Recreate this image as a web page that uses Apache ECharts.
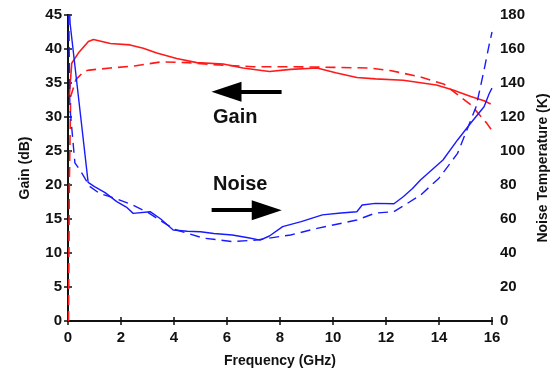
<!DOCTYPE html>
<html>
<head>
<meta charset="utf-8">
<script src="https://cdn.jsdelivr.net/npm/echarts@6/dist/echarts.min.js"></script>
<style>
  html, body { margin: 0; padding: 0; background: #fff; }
  #chart { width: 552px; height: 373px; }
</style>
</head>
<body>
<div id="chart"></div>
<script>
// x ticks (GHz)
const freqTicks = [0, 2, 4, 6, 8, 10, 12, 14, 16];

// gain, measured (solid red), dB
const gainMeasFreq = [0.05, 0.14, 0.39, 0.77, 0.96, 1.6, 2.34, 2.84, 3.35, 4.1, 4.86, 5.86, 6.6, 7.6, 8.4, 9.4, 10.1, 10.9, 11.6, 12.65, 13.9, 14.5, 15.2, 15.7, 15.95];
const gainMeas     = [33.0, 37.9, 39.4, 41.1, 41.4, 40.8, 40.6, 40.1, 39.4, 38.6, 38.0, 37.8, 37.2, 36.7, 37.0, 37.2, 36.5, 35.8, 35.6, 35.4, 34.7, 34.0, 33.0, 32.4, 31.9];

// gain, simulated (dashed red), dB
const gainSimFreq = [0.02, 0.05, 0.1, 0.3, 0.6, 0.8, 1.6, 2.5, 3.5, 4.5, 5.5, 7, 8.5, 10, 11.4, 12.2, 13.3, 14.2, 15.2, 15.8, 16];
const gainSim     = [0.0, 20.0, 33.0, 35.5, 36.7, 36.9, 37.2, 37.5, 38.1, 38.0, 37.7, 37.4, 37.4, 37.3, 37.2, 36.8, 35.9, 34.8, 31.8, 29.1, 28.0];

// noise temperature, measured (solid blue), K
const noiseMeasFreq = [0.05, 0.08, 0.76, 1.0, 1.4, 1.84, 2.2, 2.46, 3.1, 3.5, 3.97, 4.5, 5.0, 5.5, 6.2, 6.8, 7.25, 7.6, 8.1, 8.8, 9.6, 10.3, 10.9, 11.1, 11.6, 12.3, 12.65, 13.0, 13.3, 14.15, 14.7, 15.2, 15.7, 15.9, 16];
const noiseMeas     = [185, 175, 81.5, 79, 75.5, 70.2, 67, 63.3, 64.3, 60, 53.5, 52.8, 52.5, 51.5, 50.6, 49, 47.6, 50, 55.5, 58.5, 62.4, 63.5, 64.3, 68.2, 69.2, 69, 73.1, 78, 83, 94.7, 106.5, 116.5, 126, 134, 137];

// noise temperature, simulated (dashed blue), K
const noiseSimFreq = [0.03, 0.07, 0.26, 0.45, 0.83, 1.2, 1.8, 2.4, 3, 4, 5.1, 6.2, 7.1, 8.4, 9.4, 10.9, 11.6, 12.3, 13.3, 14.0, 14.7, 15.4, 15.7, 15.9, 16];
const noiseSim     = [180, 126, 93, 88.8, 79, 75, 72, 68.5, 64, 54, 48.8, 46.7, 47.6, 50.6, 54.5, 59.4, 63.5, 64.3, 74, 84, 98.6, 126, 147.6, 163, 170];

const zip = (xs, ys) => xs.map((x, i) => [x, ys[i]]);

const chart = echarts.init(document.getElementById('chart'));
const font = 'Liberation Sans, Arial, sans-serif';
const axisLine = { show: true, lineStyle: { color: '#111', width: 2 } };
const axisTick = { show: true, inside: true, length: 4, lineStyle: { color: '#111', width: 1.5 } };
const tickLabel = { color: '#111', fontFamily: font, fontWeight: 'bold', fontSize: 15 };
const titleStyle = { color: '#111', fontFamily: font, fontWeight: 'bold', fontSize: 14 };

chart.setOption({
  animation: false,
  grid: { left: 68, right: 60, top: 15, bottom: 52, containLabel: false, outerBoundsMode: 'none' },
  xAxis: [
    {
      type: 'value', min: 0, max: 16, interval: 2, position: 'bottom',
      name: 'Frequency (GHz)', nameLocation: 'middle', nameGap: 33,
      nameTextStyle: titleStyle,
      axisLine, axisTick, splitLine: { show: false },
      axisLabel: Object.assign({ margin: 9, formatter: v => freqTicks.includes(v) ? String(v) : '' }, tickLabel)
    },
    {
      type: 'value', min: 0, max: 16, interval: 2, position: 'top',
      axisLine, axisTick, splitLine: { show: false }, axisLabel: { show: false }
    }
  ],
  yAxis: [
    {
      type: 'value', min: 0, max: 45, interval: 5, position: 'left',
      name: 'Gain (dB)', nameLocation: 'middle', nameGap: 36,
      nameTextStyle: titleStyle,
      axisLine, axisTick, splitLine: { show: false },
      axisLabel: Object.assign({ margin: 6 }, tickLabel)
    },
    {
      type: 'value', min: 0, max: 180, interval: 20, position: 'right',
      name: 'Noise Temperature (K)', nameLocation: 'middle', nameGap: 42,
      nameTextStyle: titleStyle,
      axisLine, axisTick, splitLine: { show: false },
      axisLabel: Object.assign({ margin: 8 }, tickLabel)
    }
  ],
  series: [
    {
      name: 'Gain measured', type: 'line', xAxisIndex: 0, yAxisIndex: 0,
      data: zip(gainMeasFreq, gainMeas), showSymbol: false, smooth: false,
      lineStyle: { color: '#ff1a1a', width: 1.6 },
      markLine: {
        silent: true, animation: false,
        label: { show: false },
        lineStyle: { color: '#000', width: 4, type: 'solid' },
        data: [
          [
            { coord: [8.06, 33.7], symbol: 'none' },
            { coord: [5.98, 33.7], symbol: 'triangle', symbolSize: [20, 30] }
          ],
          [
            { coord: [5.42, 16.3], symbol: 'none' },
            { coord: [7.5, 16.3], symbol: 'triangle', symbolSize: [20, 30] }
          ]
        ]
      }
    },
    {
      name: 'Gain simulated', type: 'line', xAxisIndex: 0, yAxisIndex: 0,
      data: zip(gainSimFreq, gainSim), showSymbol: false,
      lineStyle: { color: '#ff1a1a', width: 1.6, type: [10, 6] }
    },
    {
      name: 'Noise measured', type: 'line', xAxisIndex: 0, yAxisIndex: 1,
      data: zip(noiseMeasFreq, noiseMeas), showSymbol: false,
      lineStyle: { color: '#1a1aff', width: 1.4 }
    },
    {
      name: 'Noise simulated', type: 'line', xAxisIndex: 0, yAxisIndex: 1,
      data: zip(noiseSimFreq, noiseSim), showSymbol: false,
      lineStyle: { color: '#1a1aff', width: 1.4, type: [10, 6] }
    }
  ],
  graphic: [
    { type: 'text', left: 213, top: 107, style: { text: 'Gain', fill: '#111', font: 'bold 20px ' + font } },
    { type: 'text', left: 213, top: 174, style: { text: 'Noise', fill: '#111', font: 'bold 20px ' + font } }
  ]
});
</script>
</body>
</html>
